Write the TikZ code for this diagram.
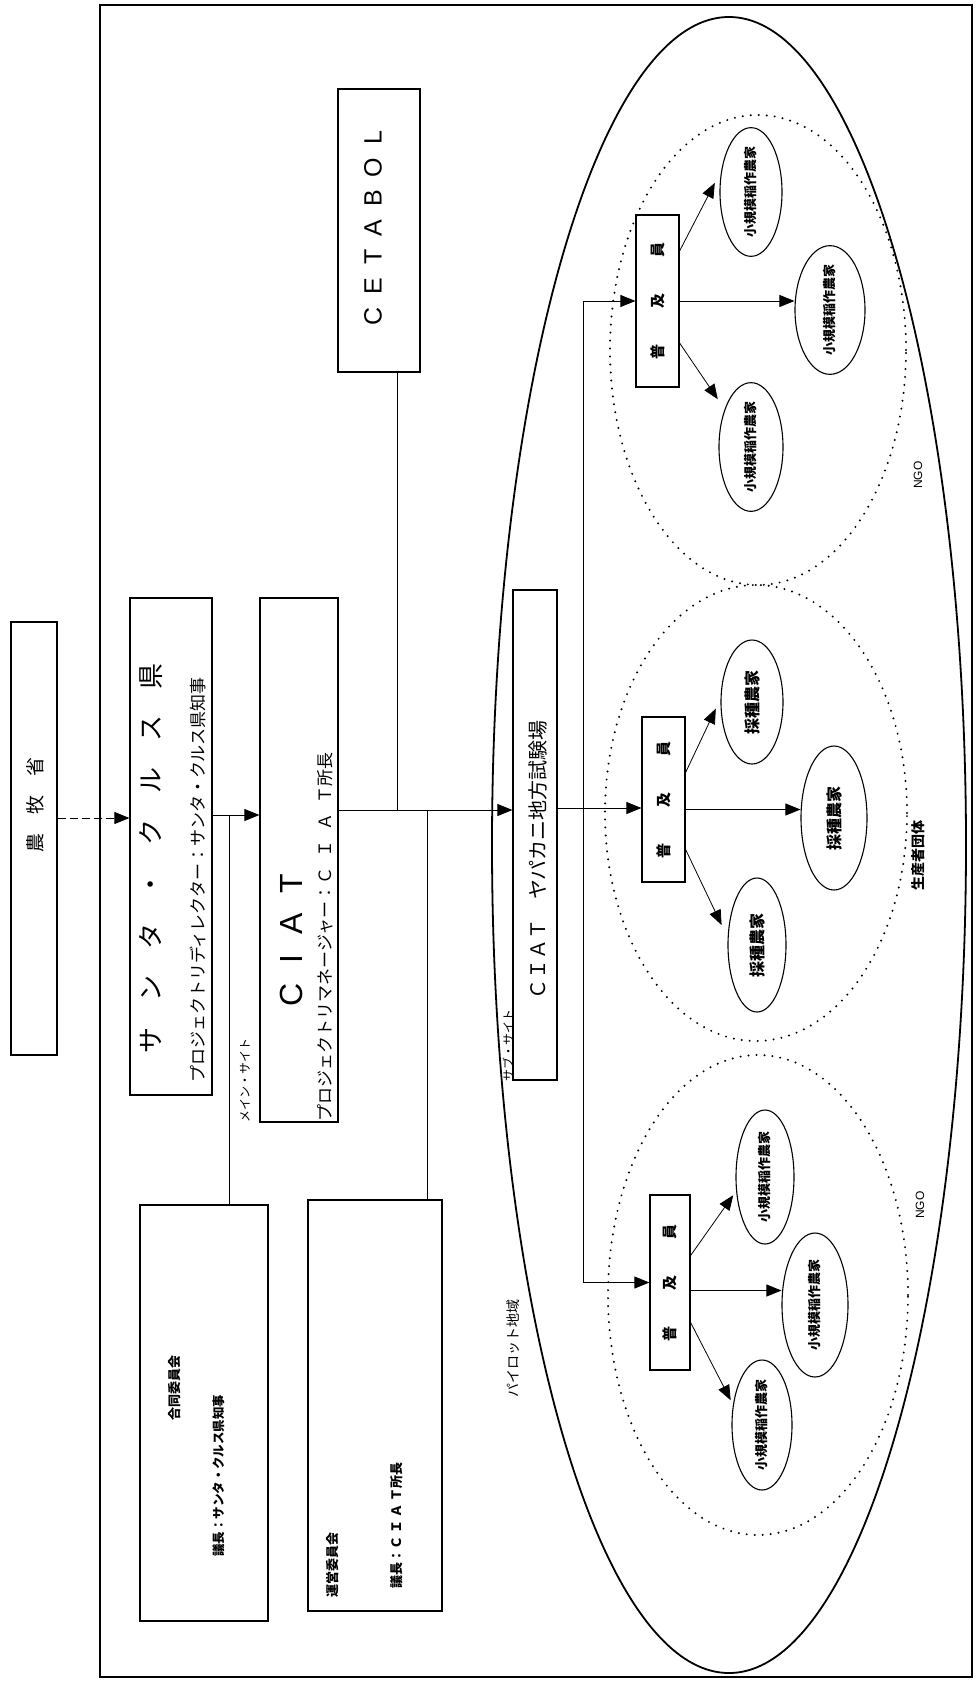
\documentclass[tikz,border=0pt]{standalone}
\usepackage{fontspec}
\usepackage{graphicx}
\setmainfont{Liberation Sans}
\newfontfamily\jp{Noto Sans CJK JP}
\usetikzlibrary{shapes.geometric, arrows.meta, calc}
\newcommand\fs[1]{\fontsize{#1}{#1}\selectfont}

\begin{document}
\begin{tikzpicture}[x=1pt, y=-1pt,
    box/.style={draw, line width=1.2pt, inner sep=0pt},
    txt/.style={rotate=90, inner sep=0pt},
    farmer/.style={draw, ellipse, line width=1.1pt, inner sep=0pt},
    arr/.style={-{Triangle[length=15pt, width=12pt]}, line width=0.8pt},
    grp/.style={line width=2.2pt, dash pattern=on 0pt off 8pt, line cap=round}]

    \useasboundingbox (0,0) rectangle (975,1683);

    % outer frame
    \draw[line width=2.5pt] (100,5) rectangle (972,1677);

    % pilot area and the three groups
    \draw[line width=1.8pt] (729,845) ellipse (237pt and 828pt);
    \draw[grp] (758,350) ellipse (148pt and 235pt);
    \draw[grp] (756,813) ellipse (151pt and 228pt);
    \draw[grp] (758,1295) ellipse (150pt and 240pt);

    % ministry
    \node[box, minimum width=46pt, minimum height=433pt] (nosho) at (34,838.5) {};
    \node[txt, font=\jp\fs{19}] (noshotxt) at (35,805) {農　牧　省};

    % Santa Cruz
    \node[box, minimum width=82pt, minimum height=497pt] (santa) at (171,846.5) {};
    \node[txt, font=\jp\fs{26}] (santatitle) at (151,858) {サ　ン　タ　・　ク　ル　ス　県};
    \node[txt, font=\jp\fs{17}] (santasub) at (198,880) {プロジェクトリディレクター：サンタ・クルス県知事};

    % CIAT
    \node[box, minimum width=78pt, minimum height=524pt] (ciat) at (299,860) {};
    \node[txt, font=\fs{32}] (ciattitle) at (291,940) {C\hspace{20pt}I\hspace{20pt}A\hspace{20pt}T};
    \node[txt, font=\jp\fs{17}] (ciatsub) at (325,937) {プロジェクトリマネージャー：Ｃ\hspace{10pt}Ｉ\hspace{10pt}Ａ\hspace{10pt}Ｔ所長};
    \node[txt, font=\jp\fs{12}] (mainsite) at (245,1080) {メイン・サイト};

    % CETABOL
    \node[box, minimum width=82pt, minimum height=283pt] (cetabol) at (379,230.5) {};
    \node[txt, font=\fs{25}] (cetaboltxt) at (373,228) {C\hspace{13pt}E\hspace{13pt}T\hspace{13pt}A\hspace{13pt}B\hspace{13pt}O\hspace{13pt}L};

    % committees
    \node[box, minimum width=128pt, minimum height=416pt] (godo) at (204,1413) {};
    \node[txt, anchor=west, font=\jp\bfseries\fs{13}] (godotitle) at (175,1421) {合同委員会};
    \node[txt, anchor=west, font=\jp\bfseries\fs{12.5}] (godochair) at (219,1557) {議長：サンタ・クルス県知事};
    \node[box, minimum width=134pt, minimum height=411pt] (unei) at (375,1405.5) {};
    \node[txt, anchor=west, font=\jp\bfseries\fs{13}] (uneititle) at (333,1598) {運営委員会};
    \node[txt, anchor=west, font=\jp\bfseries\fs{13}] (uneichair) at (397,1589) {議長：Ｃ\hspace{3pt}Ｉ\hspace{3pt}Ａ\hspace{3pt}Ｔ所長};

    % Yapacani station
    \node[box, minimum width=44pt, minimum height=490pt] (yap) at (535,835) {};
    \node[txt, font=\jp\fs{20}] (yaptxt) at (538,860) {ＣＩＡＴ　ヤパカニ地方試験場};
    \node[txt, font=\jp\fs{12}] (subsite) at (508,1045) {サブ・サイト};
    \node[txt, font=\jp\fs{14}] (pilot) at (513,1348) {パイロット地域};

    % extension workers
    \node[box, minimum width=43pt, minimum height=172pt] (ft) at (657.5,301) {\rotatebox{90}{\jp\bfseries\fs{15}普\hspace{36pt}及\hspace{36pt}員}};
    \node[box, minimum width=43pt, minimum height=165pt] (fm) at (663.5,799.5) {\rotatebox{90}{\jp\bfseries\fs{15}普\hspace{36pt}及\hspace{36pt}員}};
    \node[box, minimum width=40pt, minimum height=175pt] (fb) at (670,1282.5) {\rotatebox{90}{\jp\bfseries\fs{15}普\hspace{36pt}及\hspace{36pt}員}};

    % farmers
    \node[farmer, minimum width=62pt, minimum height=116pt] (t1) at (751,192) {\rotatebox{90}{\jp\bfseries\fs{13}小規模稲作農家}};
    \node[farmer, minimum width=70pt, minimum height=120pt] (t2) at (830,310) {\rotatebox{90}{\jp\bfseries\fs{13}小規模稲作農家}};
    \node[farmer, minimum width=64pt, minimum height=126pt] (t3) at (751,447) {\rotatebox{90}{\jp\bfseries\fs{13}小規模稲作農家}};
    \node[farmer, minimum width=62pt, minimum height=124pt] (m1) at (752,702) {\rotatebox{90}{\jp\bfseries\fs{16}採種農家}};
    \node[farmer, minimum width=66pt, minimum height=144pt] (m2) at (834,818) {\rotatebox{90}{\jp\bfseries\fs{16}採種農家}};
    \node[farmer, minimum width=58pt, minimum height=134pt] (m3) at (757,945) {\rotatebox{90}{\jp\bfseries\fs{16}採種農家}};
    \node[farmer, minimum width=58pt, minimum height=134pt] (b1) at (765,1177) {\rotatebox{90}{\jp\bfseries\fs{13}小規模稲作農家}};
    \node[farmer, minimum width=66pt, minimum height=144pt] (b2) at (815,1305) {\rotatebox{90}{\jp\bfseries\fs{13}小規模稲作農家}};
    \node[farmer, minimum width=60pt, minimum height=130pt] (b3) at (762,1425) {\rotatebox{90}{\jp\bfseries\fs{13}小規模稲作農家}};

    % group labels
    \node[txt, font=\fs{12}] (ngotop) at (918,475) {NGO};
    \node[txt, font=\jp\bfseries\fs{14}] (seisan) at (918,855) {生産者団体};
    \node[txt, font=\fs{12}] (ngobot) at (920,1205) {NGO};

    % junction points
    \coordinate (noshojn) at (80,818);
    \coordinate (mainjn) at (229,815);
    \coordinate (cetjn) at (397,810);
    \coordinate (ueijn) at (427,810);
    \coordinate (trunk) at (583,808);

    % top of the chain
    \draw[arr, dash pattern=on 8pt off 4pt] (nosho.east |- noshojn) -- (santa.west |- noshojn);
    \draw[arr] (santa.east |- mainjn) -- (ciat.west |- mainjn);
    \draw[line width=0.8pt] (mainjn) -- (godo.north -| mainjn);
    \draw[arr] (ciat.east |- cetjn) -- (yap.west |- cetjn);
    \draw[line width=0.8pt] (cetabol.south -| cetjn) -- (cetjn);
    \draw[line width=0.8pt] (ueijn) -- (unei.north -| ueijn);

    % station to extension workers
    \draw[arr] (yap.east |- trunk) -- (fm.west |- trunk);
    \draw[arr] (trunk) |- (ft.west);
    \draw[arr] (trunk) |- (fb.west);

    % extension workers to farmers
    \draw[arr, shorten >=14pt] ([yshift=50pt]ft.east) -- (t1.144);
    \draw[arr] (ft.east) -- (ft.east -| t2.west);
    \draw[arr, shorten >=12pt] ([yshift=-42pt]ft.east) -- (t3.125);
    \draw[arr, shorten >=11pt] ([yshift=27pt]fm.east) -- (m1.174);
    \draw[arr] ([yshift=-10pt]fm.east) -- ([yshift=-10pt]fm.east -| m2.west);
    \draw[arr, shorten >=14pt] ([yshift=-50pt]fm.east) -- (m3.166);
    \draw[arr, shorten >=5pt] ([yshift=27pt]fb.east) -- (b1.206);
    \draw[arr] ([yshift=-8pt]fb.east) -- ([yshift=-8pt]fb.east -| b2.west);
    \draw[arr, shorten >=5pt] ([yshift=-40pt]fb.east) -- (b3.145);

\end{tikzpicture}
\end{document}
